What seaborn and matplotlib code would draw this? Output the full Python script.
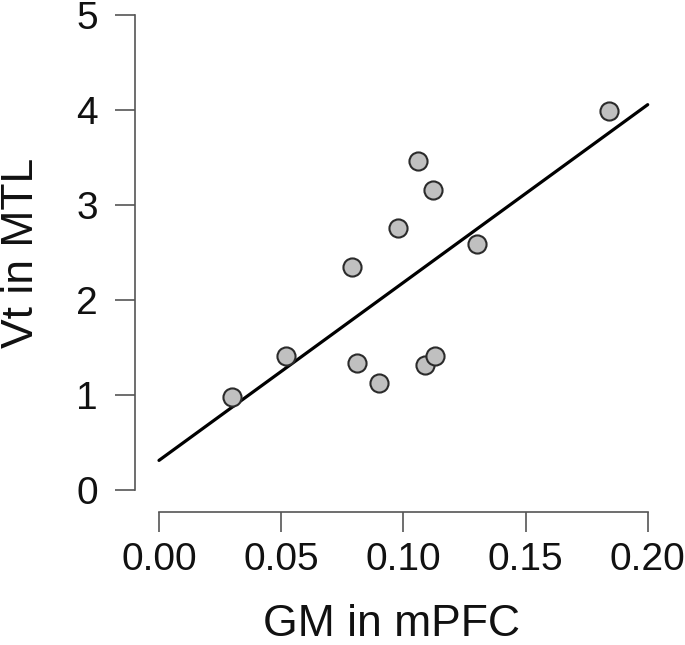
import numpy as np
import pandas as pd
import seaborn as sns
import matplotlib.pyplot as plt

# values
gm_mpfc = [0.030, 0.052, 0.079, 0.081, 0.090, 0.098, 0.106, 0.112, 0.109, 0.113, 0.130, 0.184]
vt_mtl = [0.98, 1.41, 2.35, 1.34, 1.13, 2.76, 3.46, 3.15, 1.31, 1.41, 2.59, 3.99]
x_ticks = [0.00, 0.05, 0.10, 0.15, 0.20]
y_ticks = [0, 1, 2, 3, 4, 5]

df = pd.DataFrame({'gm': gm_mpfc, 'vt': vt_mtl})

sns.set_style('white')
plt.rcParams['font.family'] = ['Liberation Sans', 'DejaVu Sans']

fig = plt.figure(figsize=(6.85, 6.45), dpi=100)
ax = fig.add_axes([134.5 / 685, 133 / 645, 550.5 / 685, 512 / 645])

# line spans 0..0.2, so fix xlim before regplot builds its grid
ax.set_xlim(0, 0.2)
sns.regplot(data=df, x='gm', y='vt', ax=ax, ci=None, truncate=False,
            scatter_kws=dict(s=170, color='#c0c0c0', edgecolors='#2b2b2b',
                             linewidths=1.5, alpha=1, zorder=3, clip_on=False),
            line_kws=dict(color='black', lw=2.3, zorder=2))

ax.set_xlim(-0.01002, 0.21526)
ax.set_ylim(-0.2313, 5.1525)

for s in ['top', 'right']:
    ax.spines[s].set_visible(False)
for s in ['left', 'bottom']:
    ax.spines[s].set_color('#555555')
    ax.spines[s].set_linewidth(1.2)
ax.spines['bottom'].set_bounds(0, 0.2)
ax.spines['left'].set_bounds(0, 5)

ax.set_xticks(x_ticks)
ax.set_xticklabels(['%.2f' % v for v in x_ticks])
ax.set_yticks(y_ticks)
ax.set_yticklabels([str(v) for v in y_ticks])
ax.tick_params(axis='both', direction='out', length=14.5, width=1.2,
               color='#555555', labelsize=28, labelcolor='#111111',
               left=True, bottom=True)
ax.tick_params(axis='x', pad=7)
ax.tick_params(axis='y', pad=12)

ax.set_xlabel('GM in mPFC', fontsize=32, color='#111111')
ax.set_ylabel('Vt in MTL', fontsize=32, color='#111111')
ax.xaxis.set_label_coords(0.466, -0.18)
ax.yaxis.set_label_coords(-0.168, 0.507)

fig.savefig('out.png', dpi=100)
